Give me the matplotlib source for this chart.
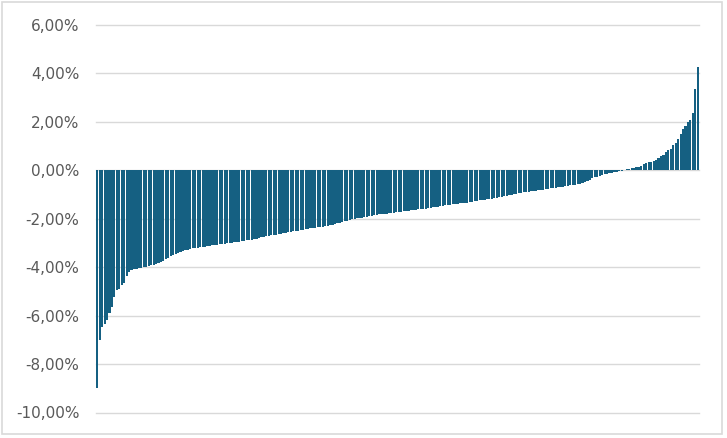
import matplotlib
matplotlib.use("Agg")
import matplotlib.pyplot as plt
from matplotlib.patches import Rectangle

# sorted returns (%)
returns = [
    -9.00, -7.00, -6.45, -6.35, -6.20, -5.90, -5.65, -5.25, -4.95, -4.90,
    -4.75, -4.65, -4.35, -4.20, -4.13, -4.08, -4.06, -4.04, -4.02,
    -4.00, -3.98, -3.95, -3.93, -3.90, -3.87,
    -3.82, -3.79, -3.75, -3.68, -3.60, -3.55, -3.50,
    -3.45, -3.42, -3.38, -3.33, -3.30, -3.27, -3.24,
    -3.22, -3.21, -3.19, -3.18, -3.16, -3.15, -3.13, -3.12, -3.10, -3.09,
    -3.08, -3.06, -3.05,
    -3.03, -3.02, -3.00, -2.99, -2.97, -2.96, -2.94, -2.92, -2.91, -2.89,
    -2.87, -2.86, -2.84, -2.82,
    -2.78, -2.76, -2.75, -2.73, -2.71, -2.69, -2.68, -2.66, -2.64, -2.62,
    -2.60, -2.58, -2.56,
    -2.54, -2.52, -2.51, -2.49, -2.47, -2.45, -2.44, -2.42, -2.40, -2.39,
    -2.37, -2.35, -2.34, -2.32,
    -2.30, -2.28, -2.26, -2.24, -2.22, -2.19, -2.17, -2.14, -2.11, -2.08,
    -2.05, -2.03, -2.01, -1.98,
    -1.96, -1.95, -1.93, -1.92, -1.90, -1.88, -1.86, -1.84, -1.82, -1.81,
    -1.80, -1.79, -1.78,
    -1.77, -1.76, -1.74, -1.73, -1.72, -1.70, -1.68, -1.66, -1.64, -1.63,
    -1.62, -1.61, -1.60, -1.59,
    -1.58, -1.57, -1.55, -1.53, -1.52, -1.50, -1.48, -1.46, -1.44, -1.43,
    -1.42, -1.41, -1.40,
    -1.39, -1.37, -1.36, -1.34, -1.33, -1.31, -1.29, -1.27, -1.25, -1.23,
    -1.22, -1.21, -1.20, -1.19,
    -1.18, -1.16, -1.14, -1.12, -1.10, -1.08, -1.06, -1.03, -1.00, -0.98,
    -0.96, -0.95, -0.93,
    -0.91, -0.90, -0.88, -0.87, -0.85, -0.84, -0.82, -0.81, -0.80, -0.78,
    -0.77, -0.75, -0.74, -0.72,
    -0.70, -0.68, -0.67, -0.65, -0.64, -0.62,
    -0.61, -0.60, -0.58, -0.55,
    -0.52, -0.49, -0.45, -0.40,
    -0.33, -0.29, -0.26, -0.23,
    -0.20, -0.17, -0.15, -0.13,
    -0.10, -0.08, -0.06, -0.04,
    -0.02, 0.02, 0.04,
    0.05, 0.08, 0.10,
    0.12, 0.15, 0.18,
    0.25, 0.32, 0.34,
    0.36, 0.40, 0.42,
    0.50, 0.60, 0.63,
    0.75, 0.85, 0.90,
    1.03, 1.12, 1.30,
    1.50, 1.72, 1.82,
    2.00, 2.07,
    2.37, 3.35, 4.25,
]

y_ticks = [-10, -8, -6, -4, -2, 0, 2, 4, 6]
y_tick_labels = ['-10,00%', '-8,00%', '-6,00%', '-4,00%', '-2,00%',
                 '0,00%', '2,00%', '4,00%', '6,00%']

bar_col = '#156082'
grid_col = '#d9d9d9'
text_col = '#595959'

fig = plt.figure(figsize=(7.27, 4.38), dpi=100)
ax = fig.add_axes([96 / 727, 1 - 412.5 / 438, 603 / 727, 387.5 / 438])

x = list(range(len(returns)))
ax.bar(x, returns, width=0.88, color=bar_col, zorder=3, linewidth=0)

ax.set_xlim(-0.5, len(returns) - 0.5)
ax.set_ylim(-10, 6)
ax.set_yticks(y_ticks)
ax.set_yticklabels(y_tick_labels, color=text_col, fontsize=11)
ax.tick_params(axis='y', length=0, pad=12)
ax.set_xticks([])
for yy in y_ticks:
    ax.axhline(yy, color=grid_col, lw=1, zorder=1, clip_on=False)
for spine in ax.spines.values():
    spine.set_visible(False)

# chart area border
fig.patches.append(Rectangle((2 / 727, 1 - 434 / 438), 720 / 727, 432 / 438,
                             transform=fig.transFigure, fill=False,
                             edgecolor=grid_col, lw=1.2))

fig.savefig('out.png', dpi=100)
